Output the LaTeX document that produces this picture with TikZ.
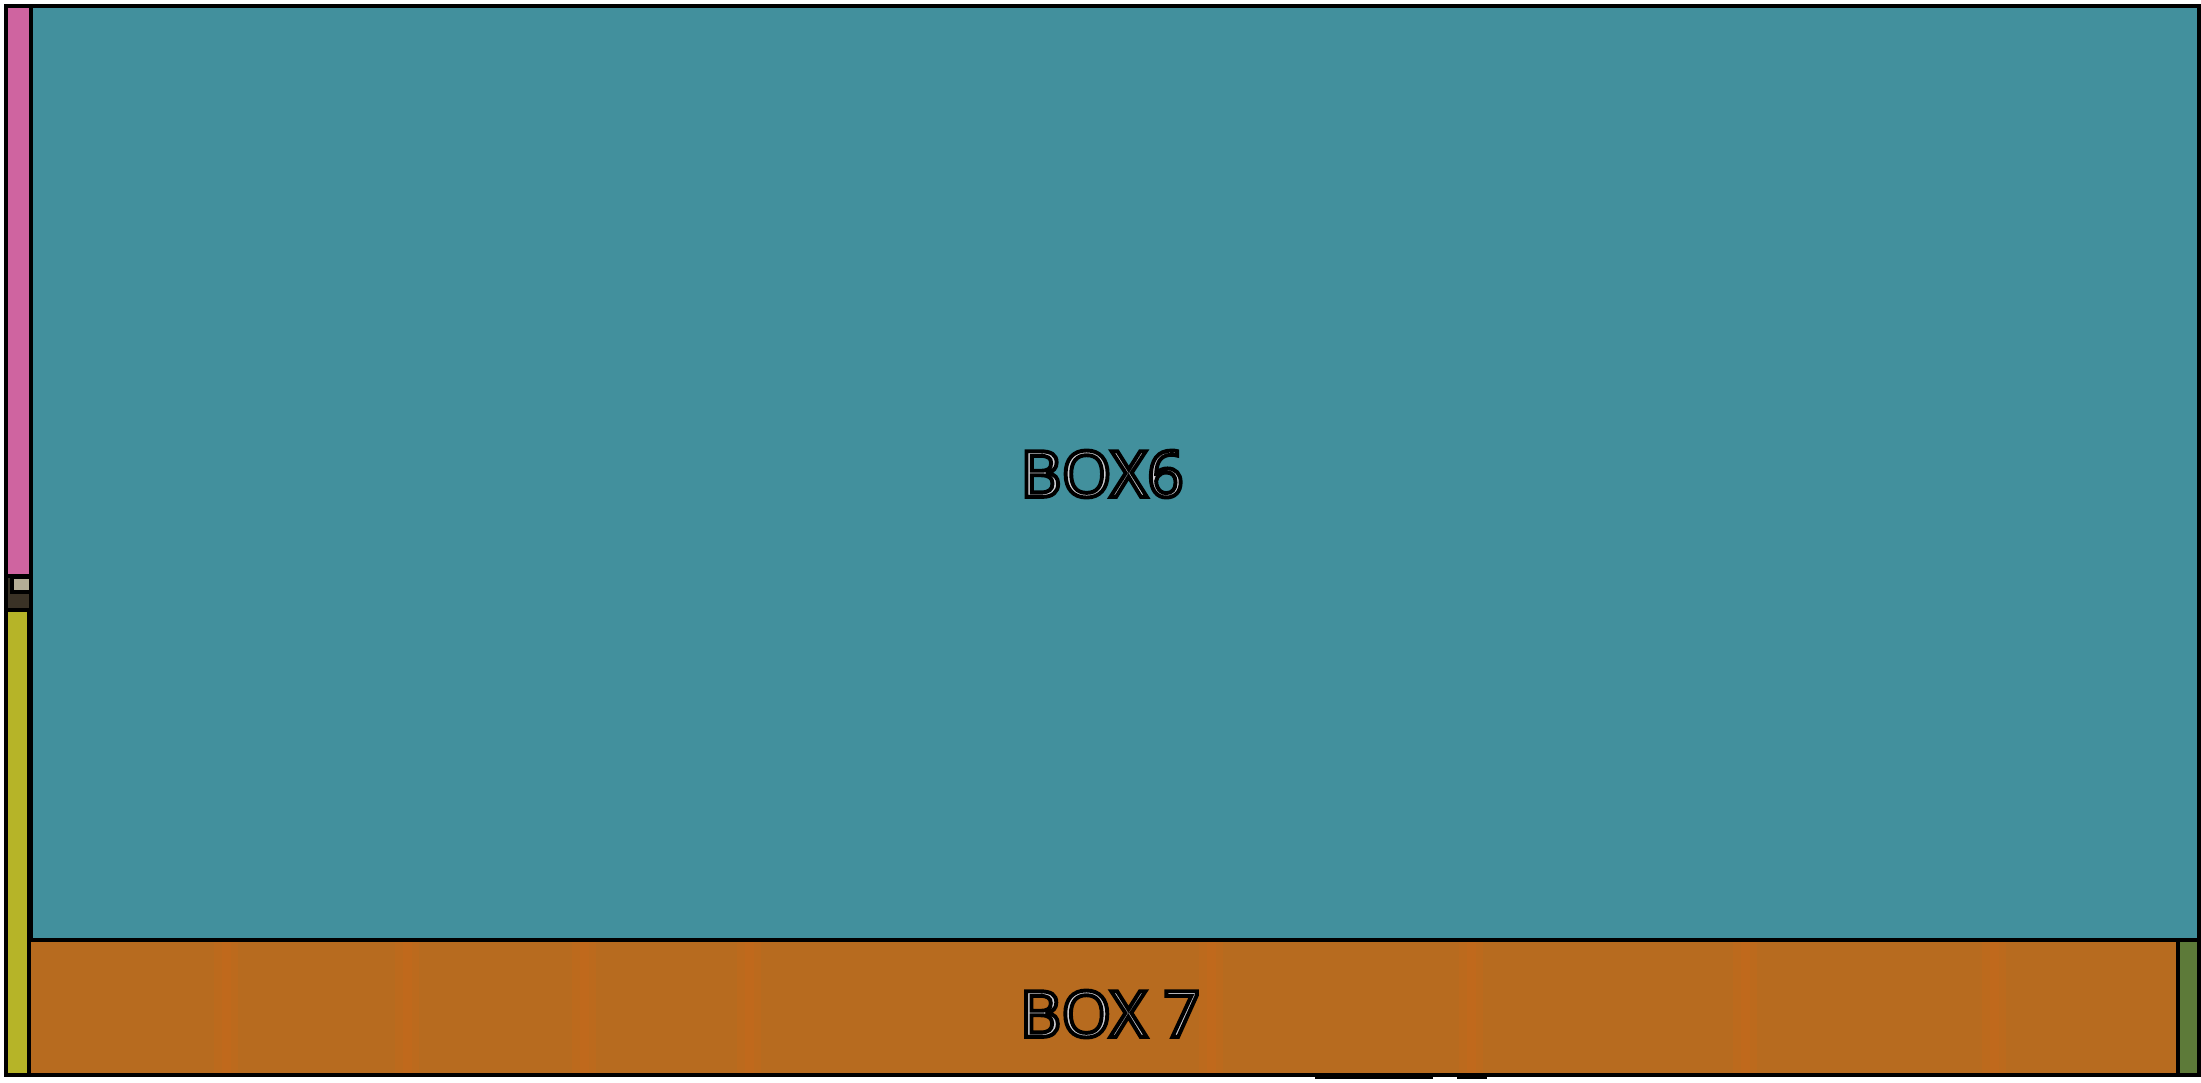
\documentclass[tikz,border=0pt]{standalone}
\usepackage{fontspec}
\setmainfont{Open Sans}
\definecolor{tealc}{RGB}{66,144,157}
\definecolor{pinkc}{RGB}{207,100,160}
\definecolor{yellowc}{RGB}{182,180,40}
\definecolor{orangec}{RGB}{183,107,31}
\definecolor{orangelt}{RGB}{202,104,26}
\definecolor{greenc}{RGB}{93,122,57}
\definecolor{beigec}{RGB}{180,173,150}
\definecolor{darkc}{RGB}{58,50,38}
\definecolor{txtfill}{RGB}{205,205,210}
\newcommand{\outl}[1]{{\color{txtfill}\special{pdf:literal direct 2 Tr 3.9 w 0 0 0 RG}#1\special{pdf:literal direct 0 Tr}}}
\begin{document}
\begin{tikzpicture}[x=1pt,y=-1pt,
  cell/.style={draw=black,line width=3.5pt,line join=miter},
  grain/.style={fill=orangelt,opacity=0.3},
  lbl/.style={font=\fontsize{64}{72}\selectfont,inner sep=0pt}]
\fill[white] (0,0) rectangle (2201,1082);
\useasboundingbox (0,0) rectangle (2201,1082);
% cells
\filldraw[cell,fill=pinkc] (6,6) rectangle (31,576);
\filldraw[cell,fill=tealc] (31,6) rectangle (2199,940);
\filldraw[cell,fill=darkc] (6,576) rectangle (31,610);
\filldraw[cell,fill=beigec] (12,577) rectangle (31,592);
\filldraw[cell,fill=yellowc] (6,610) rectangle (29,1075);
\fill[orangec] (29,940) rectangle (2178,1075);
\foreach \sx in {222,403,580,745,1207,1467,1741,1990}{
  \fill[grain] (\sx-8,942) rectangle ++(24,131);
  \fill[grain] (\sx,942) rectangle ++(9,131);
}
\draw[cell] (29,940) rectangle (2178,1075);
\filldraw[cell,fill=greenc] (2178,940) rectangle (2199,1075);
\fill[black] (1315,1075) rectangle (1433,1079);
\fill[black] (1457,1075) rectangle (1487,1079);
\draw[black,line width=3.5pt] (6,6) rectangle (2199,1075);
% labels
\node[lbl] (box6) at (1102,474) {\outl{BOX6}};
\node[lbl] (box7) at (1110,1014) {\outl{BOX 7}};
\end{tikzpicture}
\end{document}
